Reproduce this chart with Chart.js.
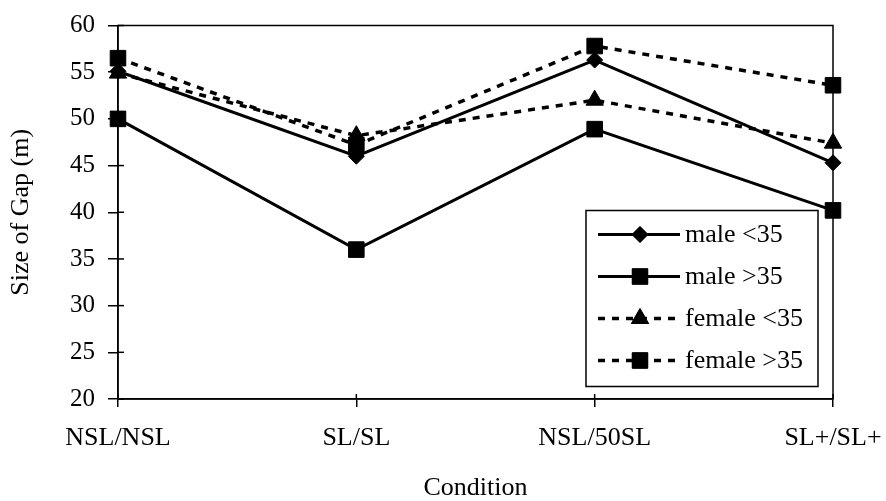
<!DOCTYPE html>
<html>
<head>
<meta charset="utf-8">
<script src="https://cdn.jsdelivr.net/npm/chart.js@4"></script>
<style>
  body { margin: 0; background: #fff; }
  #wrap { width: 886px; height: 501px; }
</style>
</head>
<body>
<div id="wrap"><canvas id="gapChart"></canvas></div>
<script>
const conditions = ['NSL/NSL', 'SL/SL', 'NSL/50SL', 'SL+/SL+'];
const maleUnder35 = [55.1, 46.0, 56.3, 45.3];
const maleOver35 = [50.0, 36.0, 48.9, 40.2];
const femaleUnder35 = [54.9, 48.2, 52.0, 47.4];
const femaleOver35 = [56.5, 47.2, 57.8, 53.6];
const yTicks = [20, 25, 30, 35, 40, 45, 50, 55, 60];

const serif = '"Liberation Serif", "Times New Roman", serif';

// frame, inner tick marks and the boxed legend inside the plot
const framePlugin = {
  id: 'frame',
  afterDraw(chart) {
    const c = chart.ctx;
    const a = chart.chartArea;
    c.save();
    c.strokeStyle = '#000';
    c.lineWidth = 1.5;
    c.strokeRect(a.left, a.top, a.right - a.left, a.bottom - a.top);
    const ys = chart.scales.y;
    yTicks.forEach(v => {
      const py = ys.getPixelForValue(v);
      c.beginPath();
      c.moveTo(a.left, py);
      c.lineTo(a.left + 6, py);
      c.stroke();
    });
    const xs = chart.scales.x;
    conditions.forEach((_, i) => {
      const px = xs.getPixelForValue(i);
      c.beginPath();
      c.moveTo(px, a.bottom);
      c.lineTo(px, a.bottom - 5);
      c.stroke();
    });

    // legend
    const bx = a.left + 468, by = a.top + 185, bw = 232, bh = 176;
    c.fillStyle = '#fff';
    c.fillRect(bx, by, bw, bh);
    c.lineWidth = 1.5;
    c.strokeRect(bx, by, bw, bh);
    chart.data.datasets.forEach((ds, i) => {
      const ly = by + 24 + i * 42;
      c.beginPath();
      c.strokeStyle = '#000';
      c.lineWidth = ds.borderWidth;
      c.setLineDash(ds.borderDash || []);
      c.moveTo(bx + 12, ly);
      c.lineTo(bx + 94, ly);
      c.stroke();
      c.setLineDash([]);
      c.fillStyle = '#000';
      c.lineWidth = 1;
      Chart.helpers.drawPoint(c, {
        pointStyle: ds.pointStyle, radius: ds.pointRadius, borderWidth: 1
      }, bx + 54, ly);
      c.fill();
      c.font = '26px ' + serif;
      c.textBaseline = 'middle';
      c.fillText(ds.label, bx + 99, ly + 1);
    });
    c.restore();
  }
};

function series(label, data, style, dashed) {
  return {
    label: label,
    data: data,
    borderColor: '#000',
    backgroundColor: '#000',
    borderWidth: dashed ? 3.5 : 3,
    borderDash: dashed ? [7, 7] : [],
    pointStyle: style,
    pointRadius: style === 'rectRot' ? 8 : (style === 'triangle' ? 10 : 11),
    pointBorderWidth: 1,
    tension: 0
  };
}

new Chart(document.getElementById('gapChart'), {
  type: 'line',
  data: {
    labels: conditions,
    datasets: [
      series('male <35', maleUnder35, 'rectRot', false),
      series('male >35', maleOver35, 'rect', false),
      series('female <35', femaleUnder35, 'triangle', true),
      series('female >35', femaleOver35, 'rect', true)
    ]
  },
  options: {
    responsive: true,
    maintainAspectRatio: false,
    animation: false,
    layout: { padding: { top: 17, right: 53, bottom: 0, left: 8 } },
    plugins: { legend: { display: false }, tooltip: { enabled: false } },
    scales: {
      x: {
        offset: false,
        afterFit(axis) { axis.paddingRight = 0; axis.paddingLeft = 0; },
        grid: { display: true, drawOnChartArea: false, color: '#000', lineWidth: 1.5, tickLength: 8 },
        border: { color: '#000', width: 1.5 },
        ticks: { color: '#000', font: { family: serif, size: 26, lineHeight: 1 }, padding: 18, maxRotation: 0 },
        title: { display: true, text: 'Condition', color: '#000', font: { family: serif, size: 26, lineHeight: 1 }, padding: { top: 6, bottom: 0 } }
      },
      y: {
        min: 20,
        max: 60,
        afterBuildTicks(axis) { axis.ticks = yTicks.map(v => ({ value: v })); },
        grid: { display: true, drawOnChartArea: false, color: '#000', lineWidth: 1.5, tickLength: 10 },
        border: { color: '#000', width: 1.5 },
        ticks: { color: '#000', font: { family: serif, size: 25, lineHeight: 1 }, padding: 13 },
        title: { display: true, text: 'Size of Gap (m)', color: '#000', font: { family: serif, size: 26, lineHeight: 1 }, padding: { top: 0, bottom: 23 } }
      }
    }
  },
  plugins: [framePlugin]
});
</script>
</body>
</html>
